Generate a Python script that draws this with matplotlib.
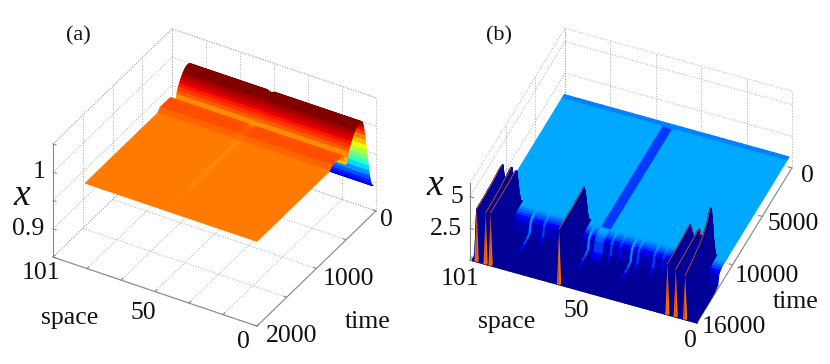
import numpy as np
import matplotlib
matplotlib.use("Agg")
import matplotlib.pyplot as plt
from mpl_toolkits.mplot3d import proj3d

plt.rcParams['font.family'] = ['Liberation Serif', 'DejaVu Serif']

W, H = 830, 364

# panel (a): profile of x along time
time_a = [50, 60, 70, 80, 90, 100, 110, 120, 130, 140, 150, 160, 170, 180, 190, 200, 210, 220,
          230, 240, 250,
          265, 280, 295, 310, 325, 340, 355, 370, 385, 400, 415, 430, 445, 460, 475, 490, 505,
          520, 535, 550, 565,
          600, 740, 780, 1000, 1300, 1600, 2000]
x_a = [0.900, 0.901, 0.903, 0.906, 0.910, 0.917, 0.925, 0.935, 0.945, 0.955, 0.965, 0.975,
       0.985, 0.995, 1.005, 1.013, 1.020, 1.026, 1.030, 1.032, 1.033,
       1.034, 1.034, 1.034, 1.033, 1.032, 1.030, 1.028, 1.026, 1.023, 1.020, 1.016, 1.012,
       1.007, 1.002, 0.992, 0.987, 0.985, 0.986, 0.993, 1.001, 1.005,
       1.006, 1.006, 1.000, 1.000, 1.000, 1.000, 1.000]
dent_a = [0, 0, 0, 0, 0, 0, 0, 0, 0, 0, 0, 0, 0, 0, 0, 0, 0, -0.001, -0.002, -0.004, -0.005,
          -0.005, -0.005, -0.004, -0.004, -0.004, -0.004, -0.004, -0.003, -0.003, -0.003,
          -0.003, -0.003, -0.003, -0.003, -0.003, -0.003, -0.003, -0.004, -0.004, -0.004, -0.004,
          -0.003, -0.003, -0.003, -0.003, -0.003, -0.002, 0]
space_a = [0, 43, 44, 45, 46, 47, 85]
dent_cols_a = [0, 0, 0.6, 1, 0.6, 0, 0]

# panel (b): rows in time, columns in space
time_b = [500, 900, 3000, 5000, 7000, 9000, 10900, 11100, 11300, 11500, 11700, 11900, 12100,
          12300, 12500, 13000, 13500, 14000, 14500, 15000, 15500, 15900, 16000]
base_b = [1.25, 1.25, 1.25, 1.25, 1.25, 1.25, 1.25, 1.25, 1.25, 1.25, 1.25, 1.2, 1.15, 1.05,
          0.3, 0.15, 0.12, 0.1, 0.1, 0.1, 0.1, 0.1, 0.0]
colour_b = [0.25, 0.29, 0.29, 0.29, 0.29, 0.29, 0.29, 0.29, 0.28, 0.25, 0.22, 0.18, 0.11, 0.05,
            0.02, 0.02, 0.02, 0.02, 0.02, 0.02, 0.02, 0.02, 0.02]
space_b = [0, 4.6, 5.5, 6.4, 8.8, 9.7, 10.6, 12.5, 13.4, 14.3, 17, 18, 21, 24, 25, 28, 29, 32,
           35, 36, 38, 39, 43, 44, 47, 48, 51, 55, 57, 58, 60.7, 61.6, 62.5, 65, 66, 70, 71,
           74, 77, 78, 81, 83, 84, 87, 89, 91.2, 92.1, 93.0, 93.4, 94.3, 95.2, 97.4, 98.3,
           99.2, 100]
streak_s = [17, 24, 28, 35, 38, 43, 47, 51, 57, 65, 70, 77, 83]
streak_n = [2, 1, 2, 2, 4, 1, 2, 2, 4, 2, 2, 2, 4]
ridge_s = [98.3, 94.3, 92.1, 61.6, 13.4, 9.7, 5.5]
ridge_x = [
    [1.25, 2.2, 3.3, 4.2, 4.3, 4.3, 4.3, 4.3, 4.25, 4.2, 4.15, 4.15, 4.1, 4.1, 4.1, 4.1],
    [1.25, 2.2, 3.3, 4.2, 4.3, 4.3, 4.25, 4.2, 4.2, 4.15, 4.1, 4.05, 4.0, 4.0, 4.0, 3.98],
    [1.25, 2.0, 3.1, 4.0, 4.2, 4.2, 4.2, 4.2, 4.15, 4.15, 4.1, 4.1, 4.1, 4.1, 4.1, 4.1],
    [1.25, 1.8, 2.8, 3.9, 4.4, 4.4, 4.4, 4.35, 4.35, 4.35, 4.3, 4.3, 4.3, 4.3, 4.3, 4.3],
    [1.25, 1.25, 1.5, 2.4, 3.3, 3.9, 4.1, 4.1, 4.1, 4.05, 4.0, 4.0, 3.95, 3.95, 3.95, 3.95],
    [1.25, 1.25, 1.5, 2.3, 3.2, 3.8, 3.9, 3.9, 3.85, 3.85, 3.8, 3.8, 3.75, 3.75, 3.7, 3.7],
    [1.25, 2.5, 4.0, 5.3, 5.5, 5.2, 4.9, 4.7, 4.5, 4.2, 4.0, 3.9, 3.7, 3.6, 3.5, 3.4],
]
first_ridge_row = 6
stripe_s = [51, 55]


def px(x, y):
    return x / W, 1 - y / H


def project(ax, p):
    xs, ys, _ = proj3d.proj_transform(p[0], p[1], p[2], ax.get_proj())
    d = ax.transData.transform((xs, ys))
    return np.array([d[0], H - d[1]])


def place(ax, corner_f, corner_r, corner_b, pf, pr, pb):
    # move and scale the 3d box so its floor corners land on the reference pixels
    size = 400.0
    cx, cy = 200.0, 180.0
    for n in range(4):
        ax.set_position([(cx - size / 2) / W, 1 - (cy + size / 2) / H, size / W, size / H])
        ax.apply_aspect()
        got = [project(ax, c) for c in (corner_f, corner_r, corner_b)]
        want = [np.array(pf), np.array(pr), np.array(pb)]
        k = (np.linalg.norm(want[0] - want[1]) + np.linalg.norm(want[1] - want[2])) / \
            (np.linalg.norm(got[0] - got[1]) + np.linalg.norm(got[1] - got[2]))
        size = size * k
        mid_got = (got[0] + got[2]) / 2
        mid_want = (want[0] + want[2]) / 2
        cx = cx + (mid_want[0] - (cx + (mid_got[0] - cx) * k))
        cy = cy + (mid_want[1] - (cy + (mid_got[1] - cy) * k))
    ax.set_position([(cx - size / 2) / W, 1 - (cy + size / 2) / H, size / W, size / H])


def box(ax, smax, tmax, z0, z1, sticks, tticks, zticks, tick_s, tick_t):
    g = dict(color='#adadad', ls=':', lw=0.7, zorder=1)
    for s in sticks:
        ax.plot([s, s], [0, 0], [z0, z1], **g)
        ax.plot([s, s], [0, tmax], [z0, z0], **g)
    for t in tticks:
        ax.plot([smax, smax], [t, t], [z0, z1], **g)
        ax.plot([0, smax], [t, t], [z0, z0], **g)
    for z in list(zticks) + [z1]:
        ax.plot([0, smax], [0, 0], [z, z], **g)
        ax.plot([smax, smax], [0, tmax], [z, z], **g)
    a = dict(color='#8a8a8a', lw=0.8, zorder=1.5)
    ax.plot([smax, 0], [tmax, tmax], [z0, z0], **a)
    ax.plot([0, 0], [tmax, 0], [z0, z0], **a)
    ax.plot([smax, smax], [tmax, tmax], [z0, z1], **a)
    for s in sticks:
        ax.plot([s, s], [tmax, tmax - tick_t], [z0, z0], **a)
    for t in tticks:
        ax.plot([0, tick_s], [t, t], [z0, z0], **a)
    for z in zticks:
        ax.plot([smax, smax - tick_s], [tmax, tmax], [z, z], **a)


fig = plt.figure(figsize=(W / 100, H / 100), dpi=100)
jet = plt.get_cmap('jet')

# ---------- (a)
ax = fig.add_subplot(projection='3d', proj_type='ortho', computed_zorder=False)
ax.view_init(elev=34.9, azim=120.6)
ax.set_xlim(0, 101, view_margin=0)
ax.set_ylim(0, 2000, view_margin=0)
ax.set_zlim(0.85, 1.05, view_margin=0)
ax.set_box_aspect((237, 234, 138))
ax.set_axis_off()

S, T = np.meshgrid(space_a, time_a)
Z = np.array(x_a)[:, None] + np.outer(dent_a, dent_cols_a)
cell = (Z[:-1, :-1] + Z[1:, :-1] + Z[:-1, 1:] + Z[1:, 1:]) / 4
fc = jet(np.clip((cell - 0.893) / 0.137, 0, 1))
box(ax, 101, 2000, 0.85, 1.05, [101 * k / 6 for k in range(7)], [0, 500, 1000, 1500, 2000],
    [0.85, 0.9, 0.95, 1.0, 1.05], 1.5, 30)
ax.plot_surface(S, T, Z, facecolors=fc, rstride=1, cstride=1, shade=False, linewidth=0.8, zorder=2)
place(ax, (101, 2000, 0.85), (0, 2000, 0.85), (0, 0, 0.85), (53, 257), (257, 326), (376, 211))

# ---------- (b)
ax2 = fig.add_subplot(projection='3d', proj_type='ortho', computed_zorder=False)
ax2.view_init(elev=42.3, azim=112.4)
ax2.set_xlim(0, 101, view_margin=0)
ax2.set_ylim(0, 16000, view_margin=0)
ax2.set_zlim(0, 6.05, view_margin=0)
ax2.set_box_aspect((245.5, 249.3, 103.7))
ax2.set_axis_off()

sb = np.array(space_b)
Zb = np.tile(np.array(base_b)[:, None], (1, len(sb)))
Cb = np.tile(np.array(colour_b)[:, None], (1, len(sb)))
for s, shift in zip(streak_s, streak_n):
    j = space_b.index(s)
    Cb[first_ridge_row:, j] = [colour_b[max(i - shift, first_ridge_row)]
                               for i in range(first_ridge_row, len(time_b))]
in_stripe = (sb >= stripe_s[0]) & (sb < stripe_s[1])
Cb[1:first_ridge_row + 2, in_stripe] = 0.18
Zb[1:first_ridge_row + 2, in_stripe] = 1.15
for s, vals in zip(ridge_s, ridge_x):
    j = int(np.argmin(np.abs(sb - s)))
    Zb[first_ridge_row:first_ridge_row + 16, j] = vals
    Cb[first_ridge_row:, j - 1:j + 1] = 0.02
Sb, Tb = np.meshgrid(space_b, time_b)
box(ax2, 101, 16000, 0, 6.05, [101 * k / 5 for k in range(6)], [0, 5000, 10000, 16000],
    [0, 2.5, 5], 1.5, 240)
ax2.plot_surface(Sb, Tb, Zb, facecolors=jet(Cb[:-1, :-1]), rstride=1, cstride=1, shade=False,
                 linewidth=0.8, zorder=2)
for s, vals in zip(ridge_s, ridge_x):
    j = int(np.argmin(np.abs(sb - s)))
    # orange end of the ridge at the last time step, drawn over the dark walls
    ax2.plot_surface(Sb[-2:, j - 1:j + 2], Tb[-2:, j - 1:j + 2], Zb[-2:, j - 1:j + 2],
                     color=jet(0.8), rstride=1, cstride=1, shade=False, linewidth=0.3, zorder=3)
    ax2.plot([s] * 12, time_b[first_ridge_row + 4:first_ridge_row + 16], vals[4:],
             color='#ff6a00', lw=0.6, alpha=0.8, zorder=3)
place(ax2, (101, 16000, 0), (0, 16000, 0), (0, 0, 0), (470, 260), (697, 323), (792, 168))

# ---------- text
labels = [
    ("(a)", 78, 36, 16), ("1", 39, 172, 18.5), ("0.9", 28, 229, 18.5), ("101", 41, 273, 18.5),
    ("space", 70, 318, 18.5), ("50", 143, 313, 18.5), ("0", 243, 342, 18.5), ("2000", 292, 336, 18.5),
    ("time", 368, 322, 18.5), ("1000", 348, 279, 18.5), ("0", 386, 220, 18.5),
    ("(b)", 499, 36, 16), ("5", 457, 197, 18.5), ("2.5", 446, 229, 18.5), ("101", 460, 279, 18.5),
    ("space", 507, 322, 18.5), ("50", 576, 311, 18.5), ("0", 690, 341, 18.5), ("16000", 734, 327, 18.5),
    ("time", 796, 302, 18.5), ("10000", 767, 276, 18.5), ("5000", 793, 224, 18.5), ("0", 807, 176, 18.5),
]
for s, x, y, size in labels:
    fx, fy = px(x, y)
    fig.text(fx, fy, s, fontsize=size, ha='center', va='center', color='#111111')
for x, y in [(22, 196), (435, 186)]:
    fx, fy = px(x, y)
    fig.text(fx, fy, "x", fontsize=27, style='italic', ha='center', va='center', color='#111111')

fig.savefig("out.png", dpi=100)
